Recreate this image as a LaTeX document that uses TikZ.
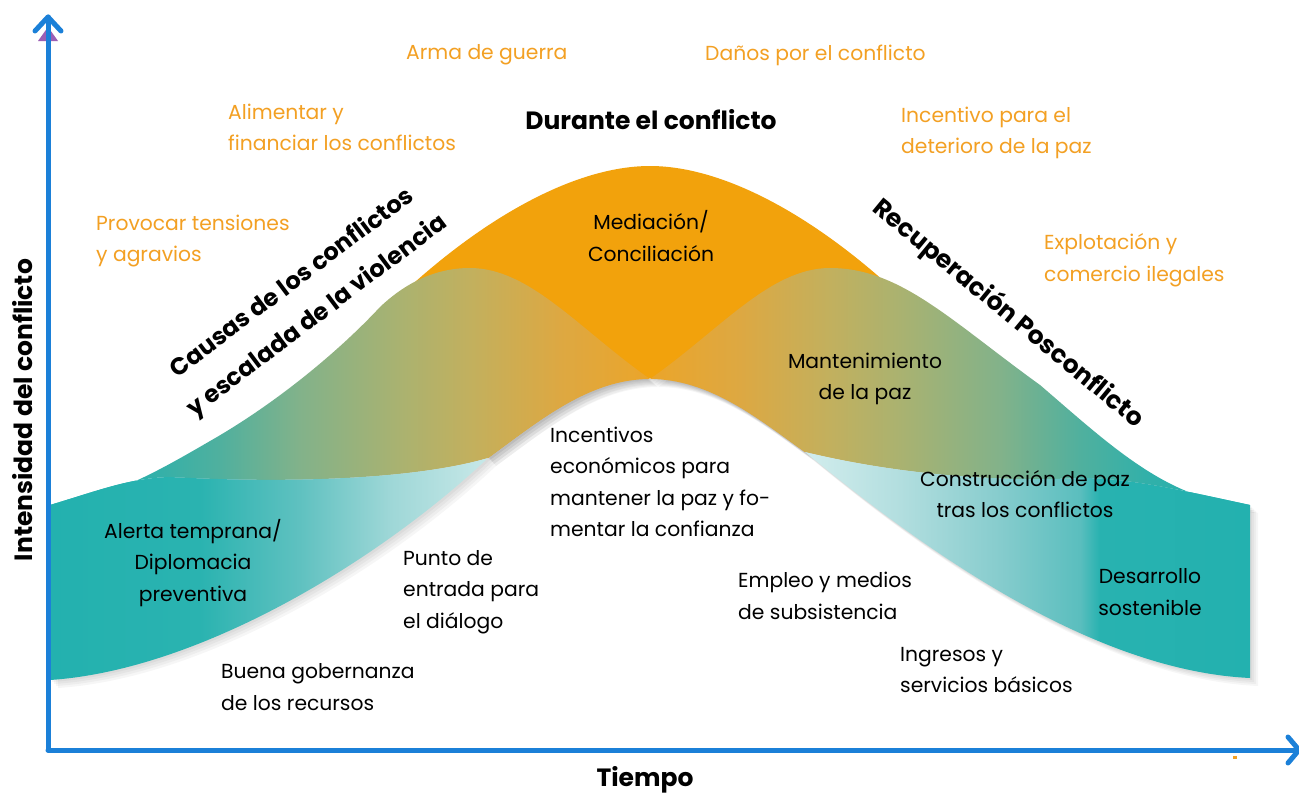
\documentclass[tikz,border=0pt]{standalone}
\usepackage{fontspec}
\setmainfont{Poppins}
\usetikzlibrary{calc}
\definecolor{axisblue}{HTML}{1B80D8}
\definecolor{txtorange}{HTML}{F3A023}
\definecolor{bandorange}{HTML}{F2A20C}
\definecolor{teal}{HTML}{23B1AF}
\definecolor{purp}{HTML}{9B5FB5}
% upper left band colours
\definecolor{la}{HTML}{23B1AF}
\definecolor{lb}{HTML}{30B0AA}
\definecolor{lc}{HTML}{50B09E}
\definecolor{ld}{HTML}{82B28A}
\definecolor{le}{HTML}{AAB270}
\definecolor{lf}{HTML}{C2B05E}
\definecolor{lg}{HTML}{DDA842}
\definecolor{lh}{HTML}{EBA52A}
% lower left ribbon
\definecolor{ra}{HTML}{23B1AF}
\definecolor{rb}{HTML}{2AB3B0}
\definecolor{rc}{HTML}{5FC1C0}
\definecolor{rd}{HTML}{9ED7D7}
\definecolor{re}{HTML}{C8E8E8}
% lower right ribbon
\definecolor{sa}{HTML}{D2EDED}
\definecolor{sb}{HTML}{B2DEDF}
\definecolor{sc}{HTML}{86CCCD}
\definecolor{sd}{HTML}{5ABEBE}
\definecolor{se}{HTML}{28B2B0}
\pgfdeclarehorizontalshading{upleft}{100bp}{color(0bp)=(la); color(25bp)=(la); color(33.3bp)=(lb); color(39.2bp)=(lc); color(45.8bp)=(ld); color(54.2bp)=(le); color(60bp)=(lf); color(67.5bp)=(lg); color(75bp)=(lh); color(100bp)=(lh)}
\pgfdeclarehorizontalshading{upright}{100bp}{color(0bp)=(lh); color(25bp)=(lh); color(32.5bp)=(lg); color(40bp)=(lf); color(45.8bp)=(le); color(54.2bp)=(ld); color(60.8bp)=(lc); color(66.7bp)=(lb); color(75bp)=(la); color(100bp)=(la)}
\pgfdeclarehorizontalshading{lowleft}{100bp}{color(0bp)=(ra); color(25bp)=(ra); color(42.1bp)=(rb); color(53.5bp)=(rc); color(63.8bp)=(rd); color(75bp)=(re); color(100bp)=(re)}
\pgfdeclarehorizontalshading{lowright}{100bp}{color(0bp)=(sa); color(25bp)=(sa); color(35.7bp)=(sb); color(46.9bp)=(sc); color(55.9bp)=(sd); color(58.1bp)=(se); color(75bp)=(teal); color(100bp)=(teal)}
\tikzset{
  axisline/.style={draw=axisblue, line width=5pt, line cap=round, line join=round},
  otext/.style={text=txtorange, font=\fontsize{20.3}{31.5}\selectfont, align=left, inner sep=0pt},
  btext/.style={text=black, font=\fontsize{20.3}{31.5}\selectfont, align=left, inner sep=0pt},
  ctext/.style={btext, align=center},
  ttext/.style={text=black, font=\bfseries\fontsize{25}{40}\selectfont, align=center, inner sep=0pt},
  shadowlayer/.style={fill=black, fill opacity=0.035},
}
\def\orangepath{(380,315) .. controls (470,225) and (570,166) .. (650,166)
   .. controls (730,166) and (830,225) .. (920,315) -- (805,452)
   .. controls (760,420) and (710,378) .. (650,378)
   .. controls (590,378) and (540,420) .. (488,458) -- cycle}
\def\upleftpath{(50,505) .. controls (110,500) and (160,470) .. (217,437)
   .. controls (280,400) and (340,350) .. (380,307)
   .. controls (400,288) and (430,268) .. (470,268)
   .. controls (530,268) and (580,330) .. (650,379)
   .. controls (590,379) and (540,420) .. (488,458)
   .. controls (420,478) and (300,484) .. (170,477)
   .. controls (130,478) and (100,490) .. (50,505) -- cycle}
\def\uprightpath{(650,379) .. controls (720,330) and (770,268) .. (830,268)
   .. controls (900,268) and (950,320) .. (1040,385)
   .. controls (1110,445) and (1170,503) .. (1250,505)
   .. controls (1180,490) and (1130,478) .. (1080,478)
   .. controls (1000,482) and (900,475) .. (805,452)
   .. controls (760,420) and (710,379) .. (650,379) -- cycle}
\def\lowleftpath{(50,505) .. controls (100,490) and (130,478) .. (170,477)
   .. controls (300,484) and (420,478) .. (488,458)
   .. controls (380,560) and (200,670) .. (50,680) -- cycle}
\def\lowrightpath{(805,452) .. controls (900,475) and (1000,482) .. (1080,478)
   .. controls (1130,478) and (1180,490) .. (1250,505)
   -- (1250,678) .. controls (1080,670) and (900,530) .. (805,452) -- cycle}
\begin{document}
\begin{tikzpicture}[x=1pt,y=-1pt]
\useasboundingbox (0,0) rectangle (1299,795);
\fill[white] (0,0) rectangle (1299,795);
% soft shadow
\foreach \s in {2,4,6,8}{
  \begin{scope}[shift={(\s,\s)}]
    \fill[shadowlayer] \orangepath;
    \fill[shadowlayer] \upleftpath;
    \fill[shadowlayer] \uprightpath;
    \fill[shadowlayer] \lowleftpath;
    \fill[shadowlayer] \lowrightpath;
  \end{scope}
}
% orange conflict band
\fill[bandorange] \orangepath;
% upper bands
\shade[shading=upleft] \upleftpath;
\shade[shading=upright] \uprightpath;
% lower ribbons
\shade[shading=lowleft] \lowleftpath;
\shade[shading=lowright] \lowrightpath;
% axes
\coordinate (origin) at (48,750);
\coordinate (ytop) at (48,17);
\coordinate (xend) at (1299,750);
\fill[white] (20,700) rectangle (48,760);
\fill[purp] (38,41) -- (48,27) -- (58,41) -- cycle;
\draw[axisline] (origin) -- (ytop);
\draw[axisline] ($(ytop)+(-13,14)$) -- (ytop) -- ($(ytop)+(13,14)$);
\draw[axisline] (origin) -- (xend);
\draw[axisline] ($(xend)+(-11,-13)$) -- (xend) -- ($(xend)+(-11,13)$);
\fill[txtorange] (1233,756) rectangle (1237,759);
% orange labels
\node[otext, anchor=west] (prov) at (96,241) {Provocar tensiones\\y agravios};
\node[otext, anchor=west] (alim) at (228,127.5) {Alimentar y\\financiar los conflictos};
\node[otext, anchor=west] (arma) at (406,55) {Arma de guerra};
\node[otext, anchor=west] (danos) at (705,55) {Daños por el conflicto};
\node[otext, anchor=west] (incent) at (901,133) {Incentivo para el\\deterioro de la paz};
\node[otext, anchor=west] (explot) at (1044,260) {Explotación y\\comercio ilegales};
% titles
\node[ttext] (durante) at (651,120) {Durante el conflicto};
\node[ttext, rotate=37, font=\bfseries\fontsize{24}{41}\selectfont] (causas) at (305,300) {Causas de los conflictos\\y escalada de la violencia};
\node[ttext, rotate=-39.5] (recup) at (1008,314) {Recuperación Posconflicto};
\node[ttext] (tiempo) at (645,780) {Tiempo};
\node[ttext, rotate=90] (intens) at (23,410) {Intensidad del conflicto};
% black labels
\node[ctext] (mediac) at (651,236) {Mediación/\\Conciliación};
\node[ctext] (manten) at (865,379) {Mantenimiento\\de la paz};
\node[btext, anchor=west] (incentivos) at (550,482) {Incentivos\\económicos para\\mantener la paz y fo-\\mentar la confianza};
\node[btext, anchor=west] (empleo) at (738,596) {Empleo y medios\\de subsistencia};
\node[ctext] (constr) at (1025,494) {Construcción de paz\\tras los conflictos};
\node[ctext] (desarr) at (1150,592) {Desarrollo\\sostenible};
\node[btext, anchor=west] (ingresos) at (900,670) {Ingresos y\\servicios básicos};
\node[ctext] (alerta) at (193,563) {Alerta temprana/\\Diplomacia\\preventiva};
\node[btext, anchor=west] (punto) at (403,592) {Punto de\\entrada para\\el diálogo};
\node[btext, anchor=west] (buena) at (221,687) {Buena gobernanza\\de los recursos};
\end{tikzpicture}
\end{document}
